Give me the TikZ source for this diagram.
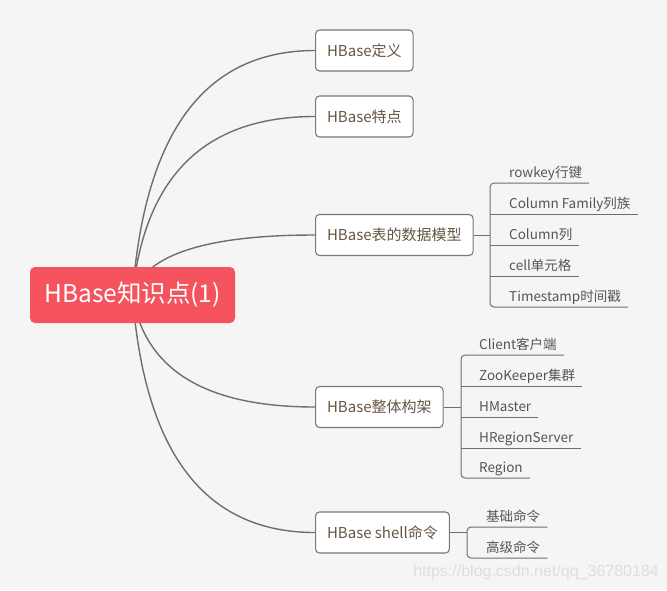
\documentclass[tikz,border=0pt]{standalone}
\usepackage{fontspec}
\usetikzlibrary{calc}
\setmainfont{Liberation Sans}
\newfontfamily\cjk{Noto Sans CJK SC}
\definecolor{bg}{RGB}{245,245,245}
\definecolor{rootred}{RGB}{245,84,94}
\definecolor{curve}{RGB}{110,110,110}
\definecolor{boxline}{RGB}{120,120,120}
\definecolor{topictext}{RGB}{104,86,68}
\definecolor{leaftext}{RGB}{85,85,85}
\definecolor{wm}{RGB}{222,222,222}
\begin{document}
\begin{tikzpicture}[x=1pt,y=-1pt,
  rootnode/.style={fill=rootred, rounded corners=5pt, text=white, minimum width=205pt, minimum height=56pt, inner sep=0pt, font=\cjk\fontsize{24.5}{28}\selectfont},
  topic/.style={draw=boxline, line width=1.1pt, rounded corners=4pt, fill=white, text=topictext, minimum height=41pt, inner xsep=11.5pt, anchor=west, font=\cjk\fontsize{15}{18}\selectfont},
  leaf/.style={anchor=south west, inner xsep=0pt, inner ysep=0pt, text depth=5pt, text=leaftext, font=\cjk\fontsize{13.5}{16}\selectfont},
  branch/.style={draw=curve, line width=1.4pt},
  twig/.style={draw=curve, line width=1pt},
  bracket/.style={draw=curve, line width=1pt, rounded corners=4pt}]
\fill[bg] (0,0) rectangle (667,590);
\useasboundingbox (0,0) rectangle (667,590);
\coordinate (rc) at (132.5,295);
% topics
\node[topic] (t1) at (315,50.5) {HBase定义};
\node[topic] (t2) at (315,116.5) {HBase特点};
\node[topic] (t3) at (315,235) {HBase表的数据模型};
\node[topic] (t4) at (315,407) {HBase整体构架};
\node[topic] (t5) at (315,532.5) {HBase shell命令};
% curves from root
\foreach \t in {t1,t2,t3,t4,t5}{
  \path[branch] (rc) .. controls ($(rc)!0.667!(rc|-\t.west)+(12,0)$) and ($(\t.west)+(-110,0)$) .. (\t.west);
}
\node[rootnode] (root) at (rc) {HBase知识点(1)};
% data model leaves
\node[leaf] (a1) at (490,183) {\hspace*{19pt}rowkey行键\hspace*{7pt}};
\node[leaf] (a2) at (490,214) {\hspace*{19pt}Column Family列族\hspace*{7pt}};
\node[leaf] (a3) at (490,245) {\hspace*{19pt}Column列\hspace*{7pt}};
\node[leaf] (a4) at (490,276) {\hspace*{19pt}cell单元格\hspace*{7pt}};
\node[leaf] (a5) at (490,307) {\hspace*{19pt}Timestamp时间戳\hspace*{7pt}};
\path[twig] (t3.east) -- (t3.east -| a1.south west);
\path[bracket] (a1.south east) -- (a1.south west) -- (a5.south west) -- (a5.south east);
\foreach \n in {a2,a3,a4}{\path[twig] (\n.south west) -- (\n.south east);}
% architecture leaves
\node[leaf] (b1) at (461,355) {\hspace*{18pt}Client客户端\hspace*{7pt}};
\node[leaf] (b2) at (461,386) {\hspace*{18pt}ZooKeeper集群\hspace*{7pt}};
\node[leaf] (b3) at (461,417) {\hspace*{18pt}HMaster\hspace*{7pt}};
\node[leaf] (b4) at (461,448) {\hspace*{18pt}HRegionServer\hspace*{7pt}};
\node[leaf] (b5) at (461,478) {\hspace*{18pt}Region\hspace*{7pt}};
\path[twig] (t4.east) -- (t4.east -| b1.south west);
\path[bracket] (b1.south east) -- (b1.south west) -- (b5.south west) -- (b5.south east);
\foreach \n in {b2,b3,b4}{\path[twig] (\n.south west) -- (\n.south east);}
% shell leaves
\node[leaf] (c1) at (467,527) {\hspace*{19pt}基础命令\hspace*{7pt}};
\node[leaf] (c2) at (467,558) {\hspace*{19pt}高级命令\hspace*{7pt}};
\path[twig] (t5.east) -- (t5.east -| c1.south west);
\path[bracket] (c1.south east) -- (c1.south west) -- (c2.south west) -- (c2.south east);
% watermark
\node[text=wm, font=\fontsize{16}{18}\selectfont, anchor=east, inner sep=0pt] (wmk) at (659,572) {https://blog.csdn.net/qq\_36780184};
\end{tikzpicture}
\end{document}
